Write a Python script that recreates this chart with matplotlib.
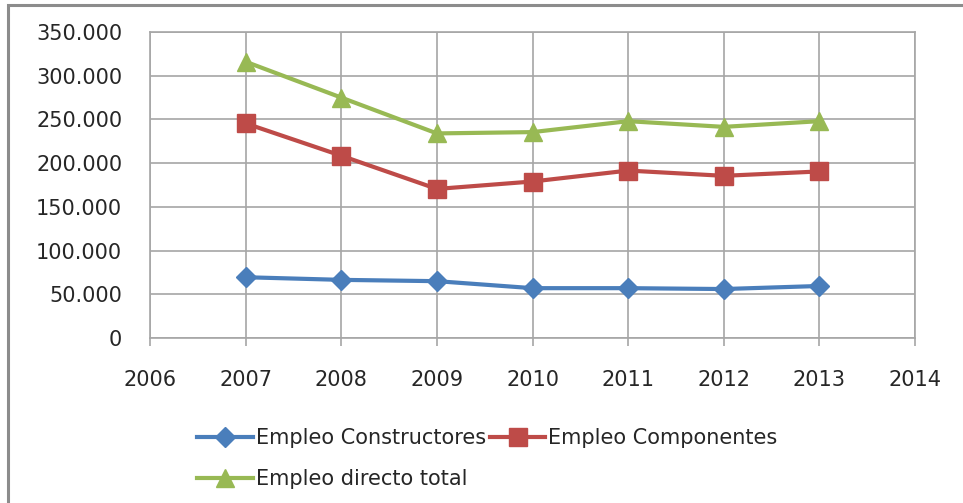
import matplotlib.pyplot as plt
from matplotlib.patches import Rectangle
from matplotlib.ticker import FuncFormatter, MultipleLocator

plt.switch_backend("Agg")

years = [2007, 2008, 2009, 2010, 2011, 2012, 2013]
constructores = [69500, 66500, 65000, 57000, 57000, 56000, 59500]
componentes = [245500, 208500, 170500, 179000, 191500, 185500, 190500]
directo_total = [316000, 275000, 234000, 235500, 248000, 241500, 248000]

BLUE = "#4A7EBB"
RED = "#BE4B48"
GREEN = "#98B954"
GRID = "#A6A6A6"
TEXT = "#262626"
FS = 15

plt.rcParams["font.family"] = ["DejaVu Sans"]


def _thousands(v, _pos):
    if v == 0:
        return "0"
    return f"{int(v):,}".replace(",", ".")


fig = plt.figure(figsize=(9.63, 5.03), dpi=100)
ax = fig.add_axes([150 / 963, 1 - 338 / 503, 765 / 963, 306 / 503])

# outer chart border, runs off the right and bottom edges
fig.patches.append(Rectangle((8 / 963, -0.1), 1.2, 1 - 5 / 503 + 0.1,
                             transform=fig.transFigure, fill=False,
                             edgecolor="#8C8C8C", linewidth=2.2))

l_con, = ax.plot(years, constructores, color=BLUE, lw=3, marker="D", ms=10,
                 label="Empleo Constructores", zorder=3)
l_com, = ax.plot(years, componentes, color=RED, lw=3, marker="s", ms=12.5,
                 label="Empleo Componentes", zorder=3)
l_tot, = ax.plot(years, directo_total, color=GREEN, lw=3, marker="^", ms=13,
                 label="Empleo directo total", zorder=3)

ax.set_xlim(2006, 2014)
ax.set_ylim(0, 350000)
ax.xaxis.set_major_locator(MultipleLocator(1))
ax.yaxis.set_major_locator(MultipleLocator(50000))
ax.yaxis.set_major_formatter(FuncFormatter(_thousands))
ax.grid(True, color=GRID, linewidth=1.2)
ax.set_axisbelow(True)
for s in ax.spines.values():
    s.set_color(GRID)
    s.set_linewidth(1.2)
ax.tick_params(axis="x", direction="out", length=6, width=1.2, color=GRID,
               pad=17, labelsize=FS, labelcolor=TEXT)
ax.tick_params(axis="y", length=0, pad=20, labelsize=FS, labelcolor=TEXT)

fig.legend(handles=[l_con, l_tot, l_com], ncol=2, frameon=False,
           loc="upper left", bbox_to_anchor=(187 / 963, 1 - 418 / 503),
           fontsize=FS, handlelength=2.65, handletextpad=0.15,
           columnspacing=0.2, labelspacing=1.0, borderpad=0,
           labelcolor=TEXT)

fig.savefig("out.png", dpi=100)
plt.close(fig)
